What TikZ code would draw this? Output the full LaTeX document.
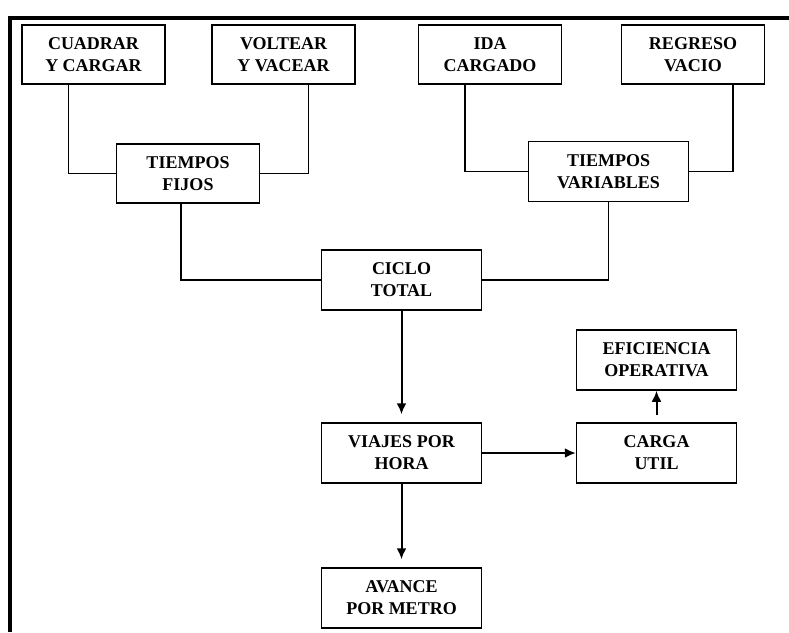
\documentclass[tikz,border=0pt]{standalone}
\usepackage{fontspec}
\setmainfont{Liberation Serif}
\usetikzlibrary{positioning,calc,arrows.meta}
\begin{document}
\begin{tikzpicture}[x=1pt,y=-1pt,
				every node/.style={block},
				block/.style={draw,rectangle,line width=1.5pt,minimum width=143pt,minimum height=59pt,
					align=center,inner sep=2pt,font=\bfseries\fontsize{18}{22}\selectfont},
				wide/.style={minimum width=160pt,minimum height=60pt},
				link/.style={line width=1.3pt},
				flow/.style={line width=2pt,-{Latex[length=11pt,width=10pt]}}]
				\useasboundingbox (0,0) rectangle (789,632);
				\draw[line width=4pt] (10,632) -- (10,18) -- (789,18);
				\node (CUADRAR)    at (93.5,54.5)  {CUADRAR\\Y CARGAR};
				\node (VOLTEAR)    at (283.5,54.5) {VOLTEAR\\Y VACEAR};
				\node (IDA)        at (490,54.5)   {IDA\\CARGADO};
				\node (REGRESO)    at (693,54.5)   {REGRESO\\VACIO};
				\node (FIJOS)      at (188,173.5)  {TIEMPOS\\FIJOS};
				\node (VARIABLES)  [wide] at (608.5,171.5) {TIEMPOS\\VARIABLES};
				\node (CICLO)      [wide] at (401.5,280)   {CICLO\\TOTAL};
				\node (EFICIENCIA) [wide] at (656.5,360)   {EFICIENCIA\\OPERATIVA};
				\node (VIAJES)     [wide] at (401.5,453)   {VIAJES POR\\HORA};
				\node (CARGA)      [wide] at (656.5,453)   {CARGA\\UTIL};
				\node (AVANCE)     [wide] at (401.5,598)   {AVANCE\\POR METRO};
				
				\draw[link] ([xshift=-25pt]CUADRAR.south) |- (FIJOS.west);
				\draw[link] ([xshift=25pt]VOLTEAR.south)  |- (FIJOS.east);
				\draw[link] ([xshift=-25pt]IDA.south)     |- (VARIABLES.west);
				\draw[link] ([xshift=40pt]REGRESO.south)  |- (VARIABLES.east);
				\draw[link] ([xshift=-7pt]FIJOS.south)    |- (CICLO.west);
				\draw[link] (VARIABLES.south)             |- (CICLO.east);
				\draw[flow,shorten >=8pt] (CICLO) -- (VIAJES);
				\draw[flow] (VIAJES) -- (CARGA);
				\draw[flow] ([yshift=7pt]CARGA.north) -- (EFICIENCIA);
				\draw[flow,shorten >=8pt] (VIAJES) -- (AVANCE);
			\end{tikzpicture}
\end{document}
